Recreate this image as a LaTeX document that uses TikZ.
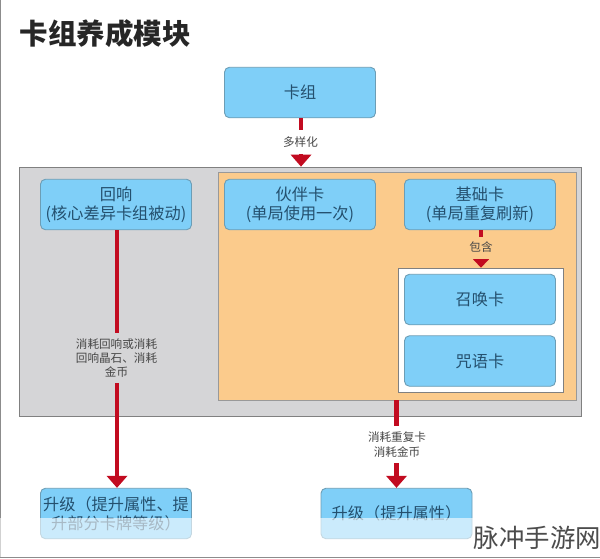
\documentclass[tikz,border=0pt]{standalone}
\usepackage{fontspec}
\setmainfont{Noto Sans CJK SC}
\usetikzlibrary{arrows.meta}
\definecolor{boxfill}{HTML}{7FCFF8}
\definecolor{boxline}{HTML}{6C9DB5}
\definecolor{boxtext}{HTML}{24506E}
\definecolor{greybg}{HTML}{D5D5D7}
\definecolor{orangebg}{HTML}{FBCB8C}
\definecolor{redline}{HTML}{C20B20}
\tikzset{
  x=1pt,y=-1pt,
  cardbox/.style={draw=boxline,line width=0.9pt,fill=boxfill,rounded corners=5pt,minimum width=151pt,minimum height=50.5pt,inner sep=0pt,align=center,text=boxtext,font=\fontsize{16.2}{19}\selectfont},
  panel/.style={inner sep=0pt,minimum width=0pt},
  flow/.style={draw=redline,line width=4.6pt,-{Triangle[width=21pt,length=12pt,line width=0pt]}},
  smallflow/.style={draw=redline,line width=4.6pt,-{Triangle[width=17pt,length=9pt,line width=0pt]}},
  flowlabel/.style={inner sep=1.5pt,align=center,text=black!72,font=\fontsize{11.6}{14.2}\selectfont},
}
\begin{document}
\begin{tikzpicture}
\useasboundingbox (0,0) rectangle (600,558);
\fill[white] (0,0) rectangle (600,558);
\draw[black!45,line width=1pt] (0.5,0) -- (0.5,557.5) -- (600,557.5);
\node[anchor=north west,inner sep=0pt,font=\fontsize{28.5}{32}\selectfont\bfseries,text=black!85] (title) at (19.5,19) {卡组养成模块};
\node[panel,draw=black!50,line width=0.8pt,fill=greybg,minimum width=562pt,minimum height=249pt] (grey) at (300,291.5) {};
\node[panel,draw=black!40,line width=0.6pt,fill=orangebg,minimum width=358pt,minimum height=228pt] (orange) at (397,286) {};
\node[panel,draw=black!50,line width=0.6pt,fill=white,minimum width=165pt,minimum height=124pt] (inner) at (480.5,330) {};
\node[cardbox] (deck) at (300,92.5) {卡组};
\node[cardbox] (echo) at (116,204.5) {回响\\(核心差异卡组被动)};
\node[cardbox] (partner) at (300,204.5) {伙伴卡\\(单局使用一次)};
\node[cardbox] (basic) at (480,204.5) {基础卡\\(单局重复刷新)};
\node[cardbox] (summon) at (480,299.5) {召唤卡};
\node[cardbox] (spell) at (480,361) {咒语卡};
\node[cardbox] (up1) at (116,513.5) {升级（提升属性、提\\升部分卡牌等级）};
\node[cardbox] (up2) at (396.5,513.5) {升级（提升属性）};
\draw[flow] ([xshift=1pt]deck.south) -- ([xshift=1pt]deck.south |- grey.north);
\draw[smallflow] ([xshift=1pt]basic.south) -- ([xshift=1pt]basic.south |- inner.north);
\draw[flow] ([xshift=1pt]echo.south) -- ([xshift=1pt]up1.north);
\coordinate (orangeout) at (up2.north |- orange.south);
\draw[flow] (orangeout) -- (up2.north);
\node[flowlabel,fill=white,minimum height=24pt] (l1) at (300.5,142) {多样化};
\node[flowlabel,fill=orangebg,minimum height=22pt] (l2) at (481,247.5) {包含};
\node[flowlabel,fill=greybg,minimum height=50pt] (l3) at (116.5,358) {消耗回响或消耗\\回响晶石、消耗\\金币};
\node[flowlabel,fill=white,minimum height=37pt] (l4) at (397,444.5) {消耗重复卡\\消耗金币};
\fill[white,opacity=0.6] (0,518) rectangle (475,557);
\fill[white] (475,518) rectangle (600,557);
\node[anchor=east,inner sep=0pt,font=\fontsize{25.4}{28}\selectfont,text=black!70] (mark) at (601,538) {脉冲手游网};
\end{tikzpicture}
\end{document}
